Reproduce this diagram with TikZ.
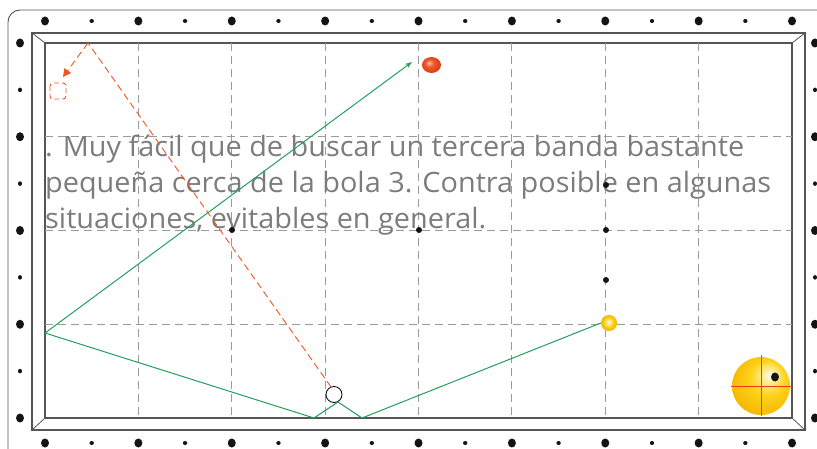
\documentclass[tikz,border=0pt]{standalone}
\usepackage{fontspec}
\setmainfont{Open Sans}
\usetikzlibrary{arrows.meta,shapes.geometric}

\definecolor{railc}{HTML}{555555}
\definecolor{gridc}{HTML}{9A9A9A}
\definecolor{shotc}{HTML}{21A05C}
\definecolor{tracec}{HTML}{F05524}
\definecolor{txtc}{HTML}{7C7C7C}
\definecolor{diamc}{HTML}{141414}
\definecolor{crossc}{HTML}{F23A14}
\definecolor{goldrim}{HTML}{F2B400}
\definecolor{goldmid}{HTML}{FFD21A}
\definecolor{goldlight}{HTML}{FFEFA0}

% ball shadings (edge of the ball sits at 25bp)
\pgfdeclareradialshading{redballsh}{\pgfpoint{-7bp}{7bp}}{%
  color(0bp)=(white!70!tracec); color(4bp)=(tracec!60!white);
  color(12bp)=(tracec); color(25bp)=(tracec!85!red!90!black); color(50bp)=(tracec!85!red!90!black)}
\pgfdeclareradialshading{yellowballsh}{\pgfpoint{-2bp}{3bp}}{%
  color(0bp)=(white); color(5bp)=(goldlight);
  color(14bp)=(goldmid); color(25bp)=(goldrim); color(50bp)=(goldrim)}
\pgfdeclareradialshading{bigballsh}{\pgfpoint{8bp}{10bp}}{%
  color(0bp)=(white); color(5bp)=(goldlight);
  color(15bp)=(goldmid); color(32bp)=(goldrim); color(50bp)=(goldrim)}

\tikzset{
  railline/.style={draw=railc, line width=1.5pt},
  gridline/.style={draw=gridc, line width=0.8pt, dash pattern=on 8pt off 5pt},
  shotline/.style={draw=shotc, line width=1pt},
  traceline/.style={draw=tracec, line width=0.9pt, dash pattern=on 7pt off 4pt},
  bigdiam/.style={fill=diamc},
  smalldiam/.style={fill=diamc},
  txtline/.style={anchor=base west, inner sep=0pt, text=txtc, xscale=1.03,
    font=\fontsize{28}{32}\selectfont},
}

\begin{document}
\begin{tikzpicture}[x=1pt,y=-1pt]
\useasboundingbox (0,0) rectangle (817,449);

% outer cushion outline
\draw[railc, line width=0.9pt, rounded corners=12pt] (8,470) -- (8,10) -- (840,10);

% rail: outer and inner frame with mitred corners
\draw[railline] (32,33) rectangle (805,430);
\draw[railline] (45,43) rectangle (792,418);
\draw[railc, line width=0.8pt] (32,33) -- (45,43) (805,33) -- (792,43)
  (32,430) -- (45,418) (805,430) -- (792,418);

% table grid
\foreach \i in {1,...,7}
  \draw[gridline] ({45+\i*93.375},43) -- ({45+\i*93.375},418);
\foreach \j in {1,2,3}
  \draw[gridline] (45,{43+\j*93.75}) -- (792,{43+\j*93.75});

% diamonds on the rails
\foreach \k in {0,...,16}{
  \pgfmathsetmacro{\xx}{45+\k*46.69}
  \ifodd\k
    \fill[smalldiam] (\xx,21) ellipse (2.2pt and 2pt);
    \fill[smalldiam] (\xx,443) ellipse (2.2pt and 2pt);
  \else
    \fill[bigdiam] (\xx,21) ellipse (4pt and 4.5pt);
    \fill[bigdiam] (\xx,443) ellipse (4pt and 4.5pt);
  \fi
}
\foreach \k in {0,...,8}{
  \pgfmathsetmacro{\yy}{43+\k*46.875}
  \ifodd\k
    \fill[smalldiam] (20,\yy) ellipse (2pt and 2.3pt);
    \fill[smalldiam] (815,\yy) ellipse (2pt and 2.3pt);
  \else
    \fill[bigdiam] (20,\yy) ellipse (4pt and 4.5pt);
    \fill[bigdiam] (815,\yy) ellipse (4pt and 4.5pt);
  \fi
}

% text
\node[txtline] (l1) at (45,157) {. Muy fácil que de buscar un tercera banda bastante};
\node[txtline] (l2) at (45,193) {pequeña cerca de la bola 3. Contra posible en algunas};
\node[txtline] (l3) at (45,229) {situaciones, evitables en general.};

% reference points on the table
\foreach \p in {(232,230),(419,230),(606,230),(606,185),(606,280)}
  \fill[diamc] \p circle (3pt);

% balls
\node[circle, minimum size=16pt, inner sep=0pt, draw=black, line width=0.8pt, fill=white]
  (cue) at (334,394.5) {};
\shade[shading=yellowballsh] (609,323) circle (8pt);
\node[circle, minimum size=16pt, inner sep=0pt] (yellow) at (609,323) {};
\shade[shading=redballsh] (431.5,65) ellipse (9.5pt and 8pt);
\node[ellipse, minimum width=19pt, minimum height=16pt, inner sep=0pt] (red) at (431.5,65) {};

% cue ball route
\coordinate (c1) at (338,402);
\coordinate (b1) at (314,418);
\coordinate (b2) at (45,333);
\coordinate (aim) at (412,62);
\coordinate (b3) at (362,418);
\draw[shotline, -{Stealth[length=7pt,width=5pt]}] (c1) -- (b1) -- (b2) -- (aim);
\draw[shotline] (c1) -- (b3) -- (yellow.west);

% first ball route
\coordinate (t1) at (331,387);
\coordinate (t2) at (88,43);
\coordinate (t3) at (63,77);
\draw[traceline] (t1) -- (t2);
\draw[traceline, -{Triangle[length=8pt,width=8pt]}] (t2) -- (t3);
\draw[draw=tracec, line width=0.9pt, dash pattern=on 5pt off 3pt, rounded corners=3pt]
  (50,83) rectangle (66,99);

% cue ball legend with contact point
\shade[shading=bigballsh] (761,386) circle (29pt);
\node[circle, minimum size=58pt, inner sep=0pt] (legend) at (761,386) {};
\draw[crossc, line width=1pt] (731,386) -- (792,386) (761,355) -- (761,416);
\fill[diamc] (775,377) ellipse (4pt and 4.5pt);
\end{tikzpicture}
\end{document}
